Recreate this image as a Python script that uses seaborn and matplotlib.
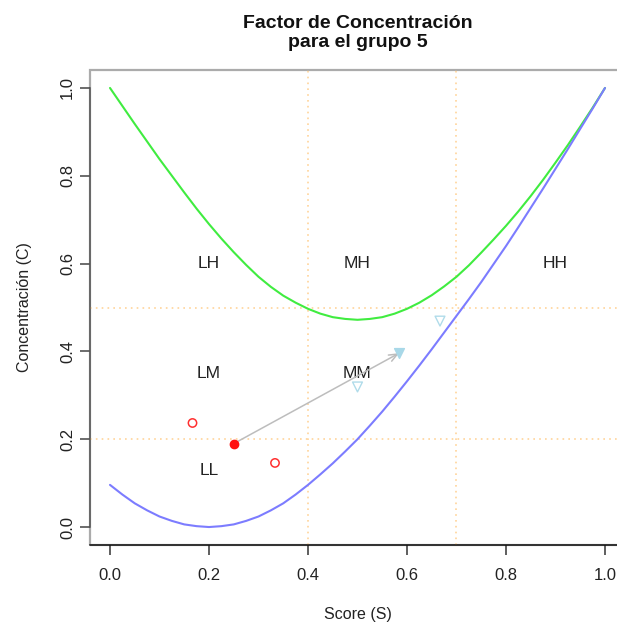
import matplotlib
matplotlib.use("Agg")
import matplotlib.pyplot as plt
from matplotlib.patches import Rectangle
import seaborn as sns
import pandas as pd

# ---- data ----
score_grid = [0.000, 0.025, 0.050, 0.075, 0.100, 0.125, 0.150, 0.175, 0.200, 0.225,
              0.250, 0.275, 0.300, 0.325, 0.350, 0.375, 0.400, 0.425, 0.450, 0.475,
              0.500, 0.525, 0.550, 0.575, 0.600, 0.625, 0.650, 0.675, 0.700, 0.725,
              0.750, 0.775, 0.800, 0.825, 0.850, 0.875, 0.900, 0.925, 0.950, 0.975, 1.000]
upper_bound = [1.000, 0.959, 0.918, 0.878, 0.838, 0.800, 0.762, 0.725, 0.690, 0.657,
               0.626, 0.597, 0.570, 0.547, 0.527, 0.511, 0.497, 0.486, 0.478, 0.474,
               0.472, 0.474, 0.478, 0.486, 0.497, 0.511, 0.528, 0.548, 0.570, 0.596,
               0.625, 0.655, 0.686, 0.719, 0.754, 0.791, 0.830, 0.870, 0.912, 0.955, 1.000]
lower_bound = [0.096, 0.074, 0.054, 0.038, 0.024, 0.014, 0.006, 0.002, 0.000, 0.002,
               0.006, 0.014, 0.024, 0.038, 0.054, 0.074, 0.096, 0.120, 0.145, 0.172,
               0.200, 0.231, 0.263, 0.297, 0.332, 0.368, 0.405, 0.443, 0.481, 0.519,
               0.558, 0.599, 0.640, 0.683, 0.727, 0.771, 0.816, 0.861, 0.907, 0.953, 1.000]

red_S = [1/6, 1/3]
red_C = [0.237, 0.146]
red_mean = (0.25, 0.19)
blue_S = [0.5, 2/3]
blue_C = [0.319, 0.469]
blue_mean = (0.584, 0.396)

v_lines = [0.4, 0.7]
h_lines = [0.2, 0.5]

region_labels = ["LH", "MH", "HH", "LM", "MM", "LL"]
region_S = [0.2, 0.5, 0.9, 0.2, 0.5, 0.2]
region_C = [0.6, 0.6, 0.6, 0.35, 0.35, 0.128]

x_ticks = [0.0, 0.2, 0.4, 0.6, 0.8, 1.0]
y_ticks = [0.0, 0.2, 0.4, 0.6, 0.8, 1.0]

title = "Factor de Concentración\npara el grupo 5"
xlab = "Score (S)"
ylab = "Concentración (C)"

# ---- style ----
sns.set_style("white")
plt.rcParams['font.family'] = ['Liberation Sans', 'DejaVu Sans']

fig = plt.figure(figsize=(6.17, 6.25), dpi=100)
W, H = 617.0, 625.0
left_px, right_px, top_px, bot_px = 90.2, 624.8, 70.4, 544.6
ax = fig.add_axes([left_px / W, 1 - bot_px / H, (right_px - left_px) / W, (bot_px - top_px) / H])
ax.set_xlim(-0.04, 1.04)
ax.set_ylim(-0.04, 1.04)

orange = '#FFD49A'
for v in v_lines:
    ax.axvline(v, color=orange, lw=1.2, ls=(0, (1, 2.5)), zorder=1)
for h in h_lines:
    ax.axhline(h, color=orange, lw=1.2, ls=(0, (1, 2.5)), zorder=1)

df = pd.DataFrame({"S": score_grid, "up": upper_bound, "low": lower_bound})
sns.lineplot(data=df, x="S", y="up", color='#40EC40', lw=1.5, ax=ax, zorder=3)
sns.lineplot(data=df, x="S", y="low", color='#7C7CFF', lw=1.5, ax=ax, zorder=3)

for lab, s, c in zip(region_labels, region_S, region_C):
    ax.text(s, c, lab, ha='center', va='center', fontsize=12.5, color='#222222', zorder=4)

ax.annotate('', xy=blue_mean, xytext=red_mean,
            arrowprops=dict(arrowstyle='->,head_length=0.6,head_width=0.25', color='#BDBDBD', lw=1.1,
                            shrinkA=0, shrinkB=0), zorder=5)

sns.scatterplot(x=red_S, y=red_C, marker='o', s=36, facecolor='none', edgecolor='#FF3030',
                linewidth=1.1, ax=ax, zorder=6)
sns.scatterplot(x=[red_mean[0]], y=[red_mean[1]], marker='o', s=36, color='#FF1010',
                edgecolor='#FF1010', linewidth=1, ax=ax, zorder=6)
sns.scatterplot(x=blue_S, y=blue_C, marker='v', s=50, facecolor='none', edgecolor='#B0DCEA',
                linewidth=1.0, ax=ax, zorder=6)
sns.scatterplot(x=[blue_mean[0]], y=[blue_mean[1]], marker='v', s=50, color='#A8D8E8',
                edgecolor='#A8D8E8', linewidth=1, ax=ax, zorder=6)

# frame
for side in ['top', 'right']:
    ax.spines[side].set_visible(False)
ax.spines['left'].set_bounds(0, 1)
ax.spines['left'].set_color('#555555')
ax.spines['left'].set_linewidth(1.1)
ax.spines['bottom'].set_color('#111111')
ax.spines['bottom'].set_linewidth(1.1)
ax.add_patch(Rectangle((0, 0), 1, 1, transform=ax.transAxes, fill=False,
                       edgecolor='#ABABAB', lw=1.6, zorder=0.5, clip_on=False))

ax.set_xticks(x_ticks)
ax.set_yticks(y_ticks)
ax.set_xticklabels([f"{t:.1f}" for t in x_ticks])
ax.set_yticklabels([f"{t:.1f}" for t in y_ticks], rotation=90, va='center')
ax.tick_params(axis='x', direction='out', length=7, width=1.1, color='#333333', pad=10,
               labelsize=12, labelcolor='#222222', bottom=True)
ax.tick_params(axis='y', direction='out', length=7, width=1.1, color='#444444', pad=4,
               labelsize=12, labelcolor='#222222', left=True)
ax.set_xlabel(xlab, fontsize=11.5, color='#222222')
ax.set_ylabel(ylab, fontsize=11.5, color='#222222')
ax.xaxis.set_label_coords(0.5, -0.1320)
ax.yaxis.set_label_coords(-0.1089, 0.5)

ax.set_title(title, fontsize=14, fontweight='bold', pad=16.5, linespacing=1.2, color='#111111')

fig.savefig("out.png", dpi=100)
